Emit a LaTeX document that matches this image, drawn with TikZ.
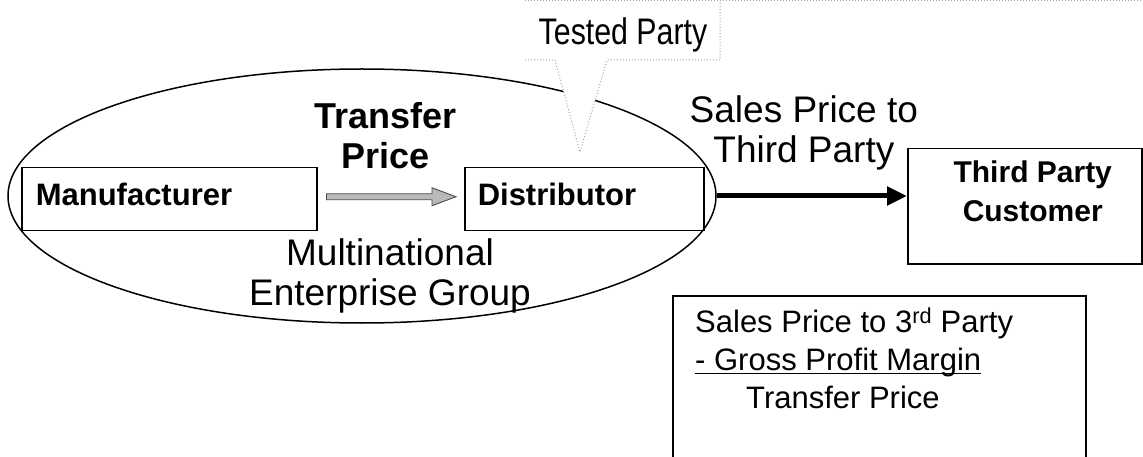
\documentclass[tikz,border=0pt]{standalone}
\usepackage{fontspec}
\setmainfont{Liberation Sans}
\newfontfamily\narrowfont[FakeStretch=0.82]{Liberation Sans}
\usetikzlibrary{shapes.geometric,arrows.meta,calc}
% underline set close under the baseline
\newcommand\closeuline[1]{\setbox0\hbox{#1}\rlap{\rule[-3pt]{\wd0}{1.3pt}}\box0}
\begin{document}
\begin{tikzpicture}[x=1pt,y=-1pt,
  box/.style={draw=black,line width=1.5pt,rectangle,inner sep=0pt},
  boxtext/.style={font=\fontsize{31}{36}\selectfont\bfseries},
  bigtext/.style={font=\fontsize{37}{40}\selectfont},
  headtext/.style={font=\fontsize{36}{40}\selectfont\bfseries},
  custtext/.style={font=\fontsize{30}{39}\selectfont\bfseries},
  formtext/.style={font=\fontsize{31}{38}\selectfont},
  callouttext/.style={font=\fontsize{37}{40}\narrowfont},
  calloutline/.style={draw=gray!70,dotted,line width=1pt},
  grayarrow/.style={fill=gray!55,draw=black!70,line width=0.9pt},
  thickarrow/.style={line width=5pt,-{Triangle[length=20pt,width=18pt]}}]
\useasboundingbox (0,0) rectangle (1143,457);
\fill[white] (0,0) rectangle (1143,457);

% group ellipse
\node[draw,ellipse,line width=1.5pt,minimum width=708pt,minimum height=254pt,inner sep=0pt] (meg) at (362,196) {};
\node[bigtext,align=center,inner sep=0pt,anchor=north] (megl) at ($(meg.center)+(28,42)$) {Multinational\\Enterprise Group};

% entity boxes
\node[box,boxtext,anchor=north west,minimum width=295pt,minimum height=63pt,
      text width=267pt,inner xsep=14pt,align=left,text height=23pt,text depth=11pt] (man) at (21,167) {Manufacturer};
\node[box,boxtext,anchor=north west,minimum width=239pt,minimum height=63pt,
      text width=213pt,inner xsep=13pt,align=left,text height=23pt,text depth=11pt] (dist) at (464,167) {Distributor};

% intercompany transfer
\coordinate (ta) at ($(man.east)+(9,-2.5)$);
\coordinate (tb) at ($(dist.west)+(-8,-2.5)$);
\filldraw[grayarrow] ($(ta)+(0,-3)$) -- ($(tb)+(-24,-3)$) -- ($(tb)+(-24,-9)$) -- (tb)
  -- ($(tb)+(-24,9)$) -- ($(tb)+(-24,3)$) -- ($(ta)+(0,3)$) -- cycle;
\path (man.east) -- (dist.west) node[midway,above=30pt,xshift=-5pt,headtext,align=center,inner sep=0pt] (tpl) {Transfer\\Price};

% third party customer
\node[box,anchor=north west,minimum width=234pt,minimum height=115pt] (tpc) at (907,148) {};
\node[custtext,align=center,anchor=north,inner sep=0pt] (tpct) at ($(tpc.north)+(8,13)$) {Third Party\\Customer};

\draw[thickarrow] (meg.east) -- (meg.east -| tpc.west)
  node[midway,above=23pt,xshift=-8pt,bigtext,align=center,inner sep=0pt] (spl) {Sales Price to\\Third Party};

% tested party callout
\coordinate (ptip) at (580,152);
\fill[white] (525,1) -- (720,1) -- (720,60) -- (607,60) -- (ptip) -- (555,60) -- (525,60) -- cycle;
\draw[calloutline] (525,60) -- (555,60) -- (ptip) -- (607,60) -- (720,60) -- (720,1);
\draw[calloutline] (525,1) -- (1143,1);
\node[callouttext,anchor=base,inner sep=0pt] (tested) at (623,45) {Tested Party};

% price formula
\node[box,anchor=north west,minimum width=413pt,minimum height=200pt] (formula) at (672,295) {};
\node[formtext,anchor=north west,align=left,inner sep=0pt] (formt) at ($(formula.north west)+(23,13)$)
  {Sales Price to 3\textsuperscript{rd} Party\\\closeuline{- Gross Profit Margin}\\\hspace*{51pt}Transfer Price};
\end{tikzpicture}
\end{document}
